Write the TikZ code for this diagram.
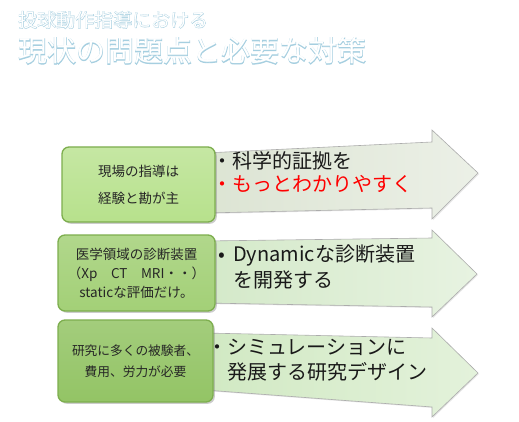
\documentclass[tikz,border=0pt]{standalone}
\usepackage{fontspec}
\setmainfont{Noto Sans CJK JP}
\newfontfamily\titleedge{Noto Sans CJK JP}[FakeBold=3]
\usetikzlibrary{shadows}

\definecolor{titleblue}{HTML}{A6CFE0}
\definecolor{boxA}{HTML}{B7E18C}
\definecolor{boxB}{HTML}{A3D077}
\definecolor{boxC}{HTML}{93C465}
\definecolor{boxedge}{HTML}{7DAE4E}
\definecolor{arrowA}{HTML}{DCE4D3}
\definecolor{arrowB}{HTML}{D4E9C9}
\definecolor{arrowC}{HTML}{D1E9C3}

\newcommand\dotmark{\makebox[20pt][c]{・}}

\tikzset{
  probbox/.style={draw=boxedge, line width=1.3pt, rounded corners=7pt,
    align=center, text=black!85, inner sep=0pt,
    drop shadow={opacity=0.4, shadow xshift=1.8pt, shadow yshift=-1.8pt}},
  arrowshape/.style={draw=gray!65, line width=0.6pt,
    drop shadow={opacity=0.2, shadow xshift=1pt, shadow yshift=-1pt}},
  arrowtext/.style={anchor=west, align=left, inner sep=0pt, text=black!90},
  titletext/.style={anchor=west, inner sep=0pt}
}

\begin{document}
\begin{tikzpicture}[x=1pt, y=-1pt]

\fill[white] (0,0) rectangle (519,422);
\useasboundingbox (0,0) rectangle (519,422);

% Title (outlined letters)
\node[titletext, titleblue, font=\titleedge\fontsize{19}{19}\selectfont] (headA) at (18,20) {投球動作指導における};
\node[titletext, white, font=\fontsize{19}{19}\selectfont] (headAin) at (18,20) {投球動作指導における};
\node[titletext, titleblue, font=\titleedge\fontsize{29}{29}\selectfont] (headB) at (18,51) {現状の問題点と必要な対策};
\node[titletext, white, font=\fontsize{29}{29}\selectfont] (headBin) at (18,51) {現状の問題点と必要な対策};

% Arrows
\draw[arrowshape, left color=arrowA, right color=arrowA!55!white]
  (205,153) -- (432,142) -- (432,130) -- (478,173) -- (432,219) -- (432,208) -- (205,213) -- cycle;
\draw[arrowshape, left color=arrowB, right color=arrowB!55!white]
  (205,241) -- (432,238) -- (432,230) -- (477,274) -- (432,317) -- (432,307) -- (205,303) -- cycle;
\draw[arrowshape, left color=arrowC, right color=arrowC!60!white]
  (205,333) -- (432,338) -- (432,328) -- (478,373) -- (432,417) -- (432,407) -- (205,390) -- cycle;

% Problem boxes
\node[probbox, top color=boxA!80!white, bottom color=boxA, minimum width=153pt, minimum height=75pt,
  font=\fontsize{13.5}{27}\selectfont] (probA) at (138.5,184.5) {現場の指導は\\経験と勘が主};
\node[probbox, top color=boxB!85!white, bottom color=boxB, minimum width=157pt, minimum height=76pt,
  font=\fontsize{13.5}{19}\selectfont] (probB) at (136.5,273) {医学領域の診断装置\\（Xp　CT　MRI・・）\\staticな評価だけ。};
\node[probbox, top color=boxC!85!white, bottom color=boxC, minimum width=155pt, minimum height=82pt,
  font=\fontsize{12.7}{21}\selectfont] (probC) at (135.5,361) {研究に多くの被験者、\\費用、労力が必要};

% Measures in the arrows
\node[arrowtext, font=\fontsize{20}{23}\selectfont] (fixA) at (212,172.5)
  {\dotmark 科学的証拠を\\\textcolor{red}{\dotmark もっとわかりやすく}};
\node[arrowtext, font=\fontsize{20}{26}\selectfont] (fixB) at (211,267)
  {\makebox[22pt][c]{•}Dynamicな診断装置\\\hspace*{22pt}を開発する};
\node[arrowtext, font=\fontsize{20}{25}\selectfont] (fixC) at (207,360.5)
  {\dotmark シミュレーションに\\\hspace*{20pt}発展する研究デザイン};

\end{tikzpicture}
\end{document}
